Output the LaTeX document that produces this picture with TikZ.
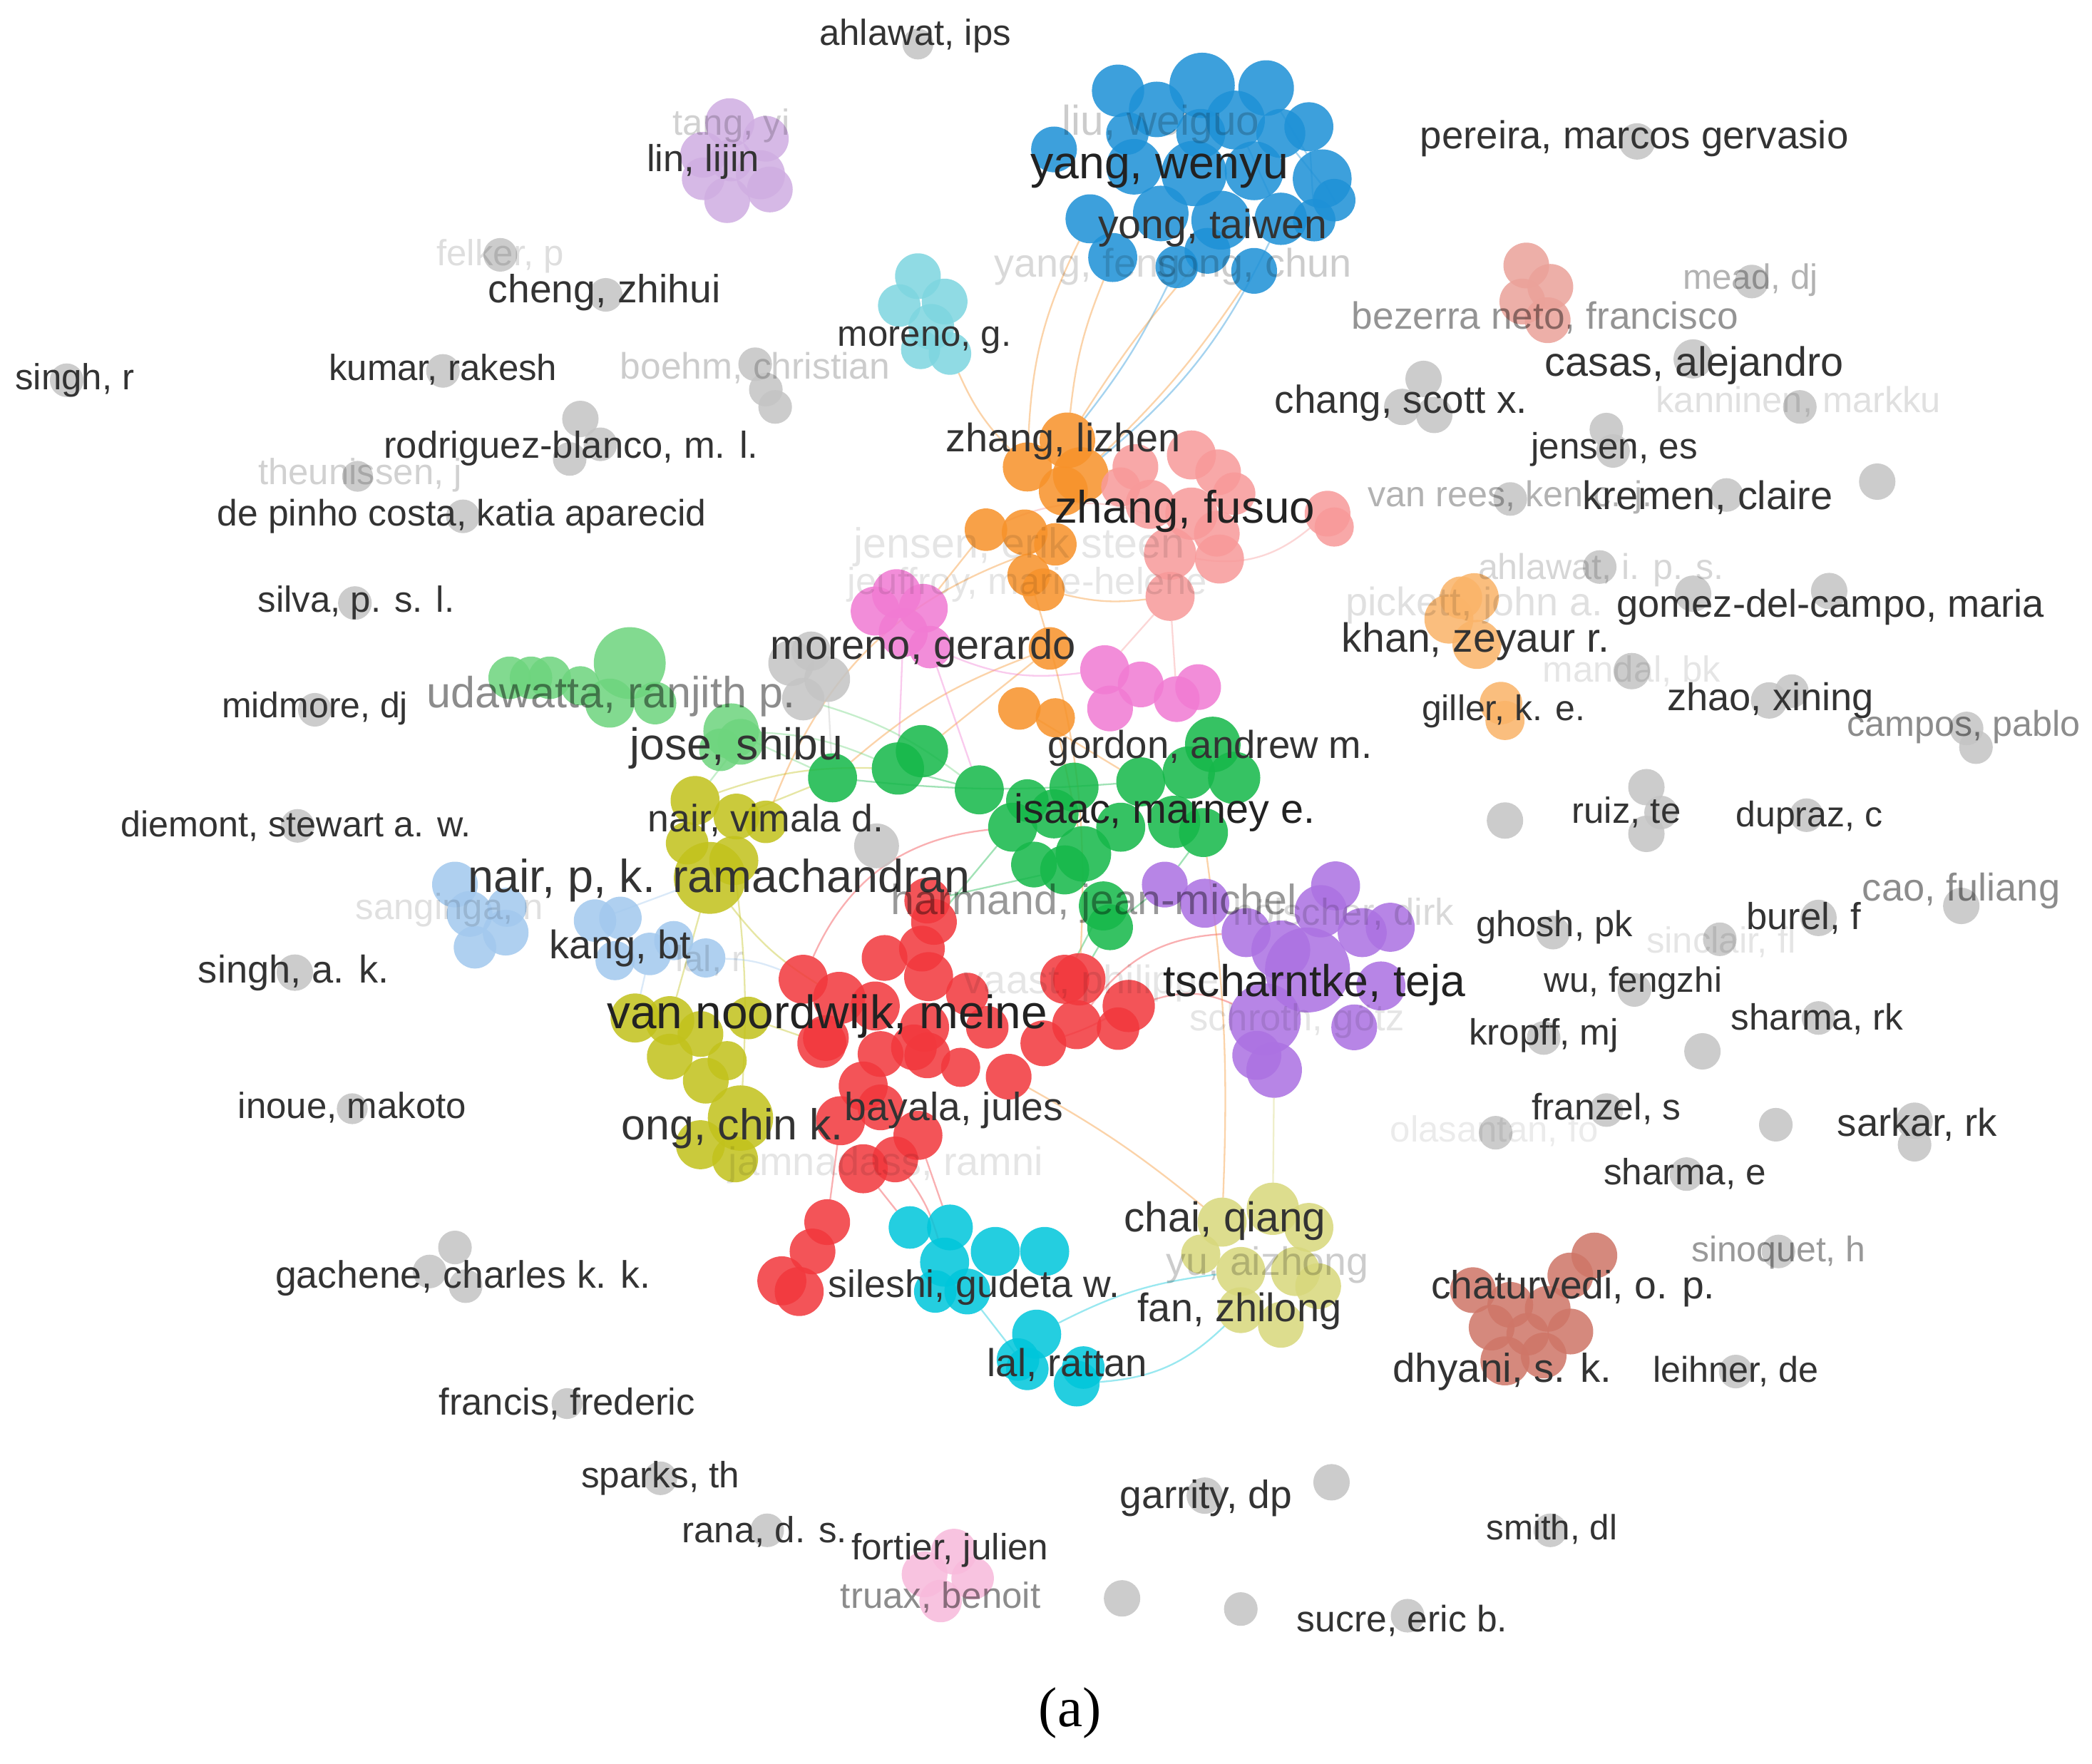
\documentclass[tikz,border=0pt]{standalone}
\usepackage{fontspec}
\setmainfont{Liberation Sans}
\newfontfamily\capfont{Liberation Serif}
\usetikzlibrary{backgrounds}
\definecolor{labc}{HTML}{333333}
\definecolor{labd}{HTML}{222222}
\definecolor{cBlue}{HTML}{1E91D7}
\definecolor{cCyanL}{HTML}{7ED6E0}
\definecolor{cOrange}{HTML}{F7922A}
\definecolor{cSalmon}{HTML}{F89A9A}
\definecolor{cMagenta}{HTML}{F17BD3}
\definecolor{cGreenL}{HTML}{6ED57E}
\definecolor{cGreen}{HTML}{16B84A}
\definecolor{cOlive}{HTML}{C2C21C}
\definecolor{cBlueL}{HTML}{A3C9EE}
\definecolor{cRed}{HTML}{F2383D}
\definecolor{cPurple}{HTML}{AC72E2}
\definecolor{cCyan}{HTML}{00C6DB}
\definecolor{cKhaki}{HTML}{D8D87C}
\definecolor{cBrown}{HTML}{CF7668}
\definecolor{cLav}{HTML}{D0AEE2}
\definecolor{cPeach}{HTML}{FAB469}
\definecolor{cSalmB}{HTML}{EBA29A}
\definecolor{cPinkL}{HTML}{F8BADC}
\definecolor{cGray}{HTML}{C4C4C4}
\begin{document}
\begin{tikzpicture}[x=0.02cm,y=-0.02cm,
  bub/.style={circle,inner sep=0pt,outer sep=0pt,draw=none,fill=#1,fill opacity=0.86},
  sz/.style={minimum size=#1*0.245mm},
  gsz/.style={minimum size=#1*0.21mm},
  lk/.style={draw=#1,draw opacity=0.4,line width=0.7pt},
  lab/.style={inner sep=0pt,text=labc},
  fnt/.style={inner sep=0pt,text=black,text opacity=#1},
  fs/.style={font=\fontsize{#1}{#1}\selectfont}]
\useasboundingbox (0,0) rectangle (1568,1322);

% ---------- clusters ----------
\foreach \i/\x/\y/\dm in {1/838/68/32,2/901/64/40,3/949/66/34,4/981/95/30,5/790/112/28,6/867/82/34,7/926/90/36,8/991/134/36,9/817/164/30,10/834/193/30,11/882/200/26,12/940/203/28,13/960/164/32,14/850/125/34,15/895/130/40,16/940/128/36,17/870/160/34,18/915/165/36,19/985/165/26,20/900/100/30,21/960/100/30,22/845/100/26,23/905/188/28,24/1000/150/26}
  \node[bub=cBlue,sz=\dm] (b\i) at (\x,\y) {};
\foreach \i/\x/\y/\dm in {1/688/207/28,2/708/226/28,3/674/229/26,4/698/245/28,5/712/265/26,6/690/262/24}
  \node[bub=cCyanL,sz=\dm] (cl\i) at (\x,\y) {};
\foreach \i/\x/\y/\dm in {1/800/330/34,2/770/350/30,3/810/356/34,4/739/397/26,5/768/399/28,6/791/408/26,7/771/431/26,8/782/442/26,9/787/486/26,10/764/531/26,11/791/538/24,12/797/368/30}
  \node[bub=cOrange,sz=\dm] (o\i) at (\x,\y) {};
\foreach \i/\x/\y/\dm in {1/851/350/28,2/893/341/30,3/913/354/28,4/925/370/26,5/862/378/30,6/893/385/32,7/912/400/28,8/877/415/32,9/914/419/30,10/877/447/30,11/995/385/28,12/840/365/24,13/1000/395/24}
  \node[bub=cSalmon,sz=\dm] (s\i) at (\x,\y) {};
\foreach \i/\x/\y/\dm in {1/656/458/30,2/672/445/30,3/692/456/30,4/677/474/30,5/697/485/26}
  \node[bub=cMagenta,sz=\dm] (m\i) at (\x,\y) {};
\foreach \i/\x/\y/\dm in {1/828/502/30,2/832/531/28,3/855/513/28,4/882/524/28,5/898/515/28}
  \node[bub=cMagenta,sz=\dm] (p\i) at (\x,\y) {};
\foreach \i/\x/\y/\dm in {1/593/497/28,2/620/509/28,3/602/524/26,4/608/488/24}
  \node[bub=cGray,sz=\dm] (gu\i) at (\x,\y) {};
\foreach \i/\x/\y/\dm in {1/382/508/26,2/398/508/26,3/412/508/26,4/435/514/24,5/472/497/44,6/457/527/30,7/491/527/26,8/548/548/34,9/555/556/28,10/540/562/26}
  \node[bub=cGreenL,sz=\dm] (lg\i) at (\x,\y) {};
\foreach \i/\x/\y/\dm in {1/624/583/30,2/673/576/32,3/691/563/32,4/734/592/30,5/759/620/30,6/775/648/28,7/805/590/30,8/812/640/34,9/798/652/30,10/827/679/30,11/832/695/28,12/855/586/30,13/891/579/32,14/909/558/34,15/925/583/32,16/880/616/32,17/902/624/30,18/790/610/30,19/840/620/30,20/770/600/26}
  \node[bub=cGreen,sz=\dm] (g\i) at (\x,\y) {};
\foreach \i/\x/\y/\dm in {1/521/600/30,2/552/612/28,3/574/616/26,4/515/632/26,5/532/658/44,6/550/645/30,7/476/763/30,8/502/765/30,9/525/775/28,10/561/763/26,11/502/792/28,12/529/810/28,13/555/838/40,14/525/858/30,15/551/869/28,16/545/795/24}
  \node[bub=cOlive,sz=\dm] (ol\i) at (\x,\y) {};
\foreach \i/\x/\y/\dm in {1/341/663/28,2/352/685/28,3/379/699/28,4/356/710/26,5/380/680/24,6/446/690/26,7/465/688/26,8/487/715/26,9/529/718/24,10/461/720/24,11/505/705/24}
  \node[bub=cBlueL,sz=\dm] (lb\i) at (\x,\y) {};
\foreach \i/\x/\y/\dm in {1/602/734/30,2/629/748/32,3/616/782/30,4/656/754/30,5/663/718/28,6/691/711/28,7/695/675/28,8/700/691/28,9/696/732/30,10/693/770/30,11/695/791/28,12/782/782/28,13/756/807/28,14/798/734/30,15/807/768/30,16/809/734/32,17/846/754/32,18/838/771/26,19/647/814/30,20/619/778/28,21/685/785/28,22/688/851/30,23/647/876/30,24/671/869/28,25/620/916/28,26/609/938/28,27/586/960/30,28/599/968/30,29/630/840/30,30/660/830/28,31/720/800/24,32/740/770/26,33/725/745/26,34/660/790/28}
  \node[bub=cRed,sz=\dm] (r\i) at (\x,\y) {};
\foreach \i/\x/\y/\dm in {1/873/663/28,2/903/677/30,3/934/699/30,4/1001/664/30,5/990/683/32,6/1021/699/30,7/1042/695/30,8/980/727/52,9/1035/739/30,10/948/764/44,11/1015/770/28,12/942/791/30,13/955/802/34,14/960/712/36}
  \node[bub=cPurple,sz=\dm] (pu\i) at (\x,\y) {};
\foreach \i/\x/\y/\dm in {1/682/920/26,2/712/920/28,3/708/946/30,4/746/938/30,5/783/938/30,6/725/968/28,7/701/968/26,8/777/1000/30,9/770/1026/26,10/807/1037/28,11/763/1019/26,12/812/1025/26}
  \node[bub=cCyan,sz=\dm] (cy\i) at (\x,\y) {};
\foreach \i/\x/\y/\dm in {1/916/916/30,2/954/906/32,3/981/920/30,4/930/953/30,5/971/953/30,6/988/964/28,7/930/982/28,8/960/993/28,9/900/940/24}
  \node[bub=cKhaki,sz=\dm] (kh\i) at (\x,\y) {};
\foreach \i/\x/\y/\dm in {1/1195/941/28,2/1177/956/28,3/1104/967/28,4/1132/978/28,5/1160/981/28,6/1118/995/28,7/1177/998/28,8/1128/1020/30,9/1157/1016/28,10/1145/1000/26}
  \node[bub=cBrown,sz=\dm] (br\i) at (\x,\y) {};
\foreach \i/\x/\y/\dm in {1/547/92/30,2/574/104/28,3/527/116/28,4/570/131/30,5/527/134/26,6/545/150/28,7/577/142/28,8/548/120/26}
  \node[bub=cLav,sz=\dm] (lv\i) at (\x,\y) {};
\foreach \i/\x/\y/\dm in {1/1105/448/30,2/1086/464/30,3/1107/483/30,4/1125/527/26,5/1128/540/24,6/1095/448/26}
  \node[bub=cPeach,sz=\dm] (pk\i) at (\x,\y) {};
\foreach \i/\x/\y/\dm in {1/1144/199/28,2/1162/215/28,3/1141/226/28,4/1160/240/28}
  \node[bub=cSalmB,sz=\dm] (sb\i) at (\x,\y) {};
\foreach \i/\x/\y/\dm in {1/715/1163/28,2/693/1180/28,3/729/1183/26,4/705/1200/26}
  \node[bub=cPinkL,sz=\dm] (pf\i) at (\x,\y) {};
% ---------- grey items ----------
\foreach \nm/\x/\y/\dm in {Ahl/688/33/22,Fel/375/191/24,Che/454/221/24,SinR/50/285/24,Kum/332/278/24,BoA/566/273/24,BoB/574/292/24,BoC/581/305/24,RoA/435/314/26,RoB/450/333/24,RoC/427/344/24,The/268/357/22,DeP/347/387/24,Sil/266/452/24,Mid/236/532/24,Die/223/619/24,SinAK/221/729/26,Ino/264/831/22,GaA/341/935/24,GaB/322/953/24,GaC/349/964/24,Fra/425/1052/22,Spa/495/1108/24,Ran/575/1147/24,BotA/841/1198/26,BotB/930/1206/24,BotC/998/1111/26,Gar/903/1121/26,Suc/1055/1211/24,Smi/1162/1147/24,Lei/1301/1028/24,Sino/1333/938/24,ShE/1264/880/24,Frz/1204/832/24,Ola/1121/849/24,Hoo/1331/843/24,SarA/1435/840/26,SarB/1435/858/24,Kro/1157/778/24,Mbu/1276/788/26,ShR/1363/763/24,Wu/1225/742/24,Gho/1164/699/24,Sinc/1289/704/24,Bur/1363/688/26,Cao/1470/679/26,Dup/1354/611/24,RuA/1234/590/26,RuB/1245/609/24,RuC/1234/625/26,Lone/1128/615/26,CamA/1474/546/24,CamB/1481/560/24,ZhA/1326/525/26,ZhB/1343/518/24,Man/1223/503/26,AhlB/1199/425/24,GoA/1269/445/26,GoB/1371/443/26,VR/1132/374/24,Kre/1294/371/24,LoneB/1407/361/26,JeA/1204/322/24,JeB/1209/338/24,Kan/1349/305/24,ChA/1067/284/26,ChB/1051/305/26,ChC/1075/311/26,Cas/1269/269/28,Mea/1313/211/24,Per/1227/106/26,Nv/657/634/32}
  \node[bub=cGray,gsz=\dm] (g\nm) at (\x,\y) {};

% ---------- links ----------
\begin{scope}[on background layer]
\fill[white] (0,0) rectangle (1568,1322);
\draw[lk=cBlue] (b3) -- (b8); \draw[lk=cBlue] (b4) -- (b19); \draw[lk=cBlue] (b21) -- (b24);
\draw[lk=cBlue] (b7) -- (b13); \draw[lk=cBlue] (b8) -- (b24);
\draw[lk=cOrange] (o1) to[bend left=8] (b10);
\draw[lk=cBlue] (o1) to[bend right=6] (b11);
\draw[lk=cOrange] (o3) to[bend right=6] (b12);
\draw[lk=cOrange] (o2) to[bend left=12] (b9);
\draw[lk=cBlue] (o3) to[bend right=12] (b13);
\draw[lk=cOrange] (o1) to[bend left=4] (b23);
\draw[lk=cOrange] (o2) to[bend left=10] (cl5);
\draw[lk=cOrange] (o3) -- (s1);
\draw[lk=cOrange] (o8) to[bend right=10] (s10);
\draw[lk=cSalmon] (s10) -- (p4);
\draw[lk=cSalmon] (s10) -- (p1);
\draw[lk=cSalmon] (s8) to[bend right=25] (s11);
\draw[lk=cSalmon] (o4) to[bend left=30] (s9);
\draw[lk=cOrange] (o4) -- (m3);
\draw[lk=cOrange] (o9) -- (g3);
\draw[lk=cOrange] (o10) -- (g12);
\draw[lk=cOrange] (o11) -- (g8);
\draw[lk=cOrange] (o9) to[bend right=10] (g1);
\draw[lk=cMagenta] (m4) -- (g2);
\draw[lk=cMagenta] (m5) to[bend right=15] (p1);
\draw[lk=cMagenta] (m5) -- (g4);
\draw[lk=cGray] (gu2) -- (g1);
\draw[lk=cGreenL] (lg8) -- (g1);
\draw[lk=cGreenL] (lg8) to[bend left=10] (g2);
\draw[lk=cGreenL] (lg9) -- (ol1);
\draw[lk=cGreenL] (gu3) to[bend left=10] (g4);
\draw[lk=cOlive] (ol2) -- (g1);
\draw[lk=cOlive] (ol1) to[bend left=10] (g2);
\draw[lk=cOlive] (ol5) to[bend right=10] (r2);
\draw[lk=cOlive] (ol10) -- (r3);
\draw[lk=cOlive] (ol5) -- (ol8);
\draw[lk=cOlive] (ol6) to[bend left=5] (ol13);
\draw[lk=cBlueL] (lb9) to[bend left=10] (r1);
\draw[lk=cBlueL] (lb6) -- (ol5);
\draw[lk=cBlueL] (lb8) -- (ol7);
\draw[lk=cGreen] (g9) -- (r7);
\draw[lk=cGreen] (g5) -- (r8);
\draw[lk=cGreen] (g10) -- (r14);
\draw[lk=cGreen] (g11) -- (r16);
\draw[lk=cGreen] (g1) to[bend right=5] (g12);
\draw[lk=cGreen] (g2) -- (g4);
\draw[lk=cGreen] (g11) -- (pu1);
\draw[lk=cGreen] (g17) -- (pu1);
\draw[lk=cRed] (r1) to[bend left=30] (g5);
\draw[lk=cRed] (r17) to[bend left=20] (pu10);
\draw[lk=cRed] (r15) to[bend left=25] (pu3);
\draw[lk=cRed] (r23) -- (cy1);
\draw[lk=cRed] (r24) to[bend left=10] (cy3);
\draw[lk=cRed] (r22) -- (cy2);
\draw[lk=cRed] (r25) -- (r29);
\draw[lk=cRed] (r12) to[bend right=5] (r17);
\draw[lk=cOrange] (r13) to[bend left=5] (kh1);
\draw[lk=cOrange] (g17) to[bend left=5] (kh1);
\draw[lk=cOrange] (o6) to[bend right=25] (ol3);
\draw[lk=cOrange] (o7) to[bend left=10] (r16);
\draw[lk=cKhaki] (pu13) -- (kh2);
\draw[lk=cCyan] (cy10) to[bend right=20] (kh7);
\draw[lk=cCyan] (cy8) to[bend left=10] (kh4);
\draw[lk=cCyan] (cy6) -- (cy9);
\end{scope}

% ---------- labels ----------
\node[lab,fs=15.5] (Lahl) at (686,27) {ahlawat, ips};
\node[fnt=0.18,fs=15.5] (Ltan) at (548,94) {tang, yi};
\node[lab,fs=16] (Llin) at (527,121) {lin, lijin};
\node[fnt=0.13,fs=15.5] (Lfel) at (375,192) {felker, p};
\node[lab,fs=16.8] (Lche) at (453,219) {cheng, zhihui};
\node[lab,fs=15.5] (LsinR) at (56,285) {singh, r};
\node[lab,fs=15.5] (Lkum) at (332,277) {kumar, rakesh};
\node[fnt=0.2,fs=15.7] (Lboe) at (566,276) {boehm, christian};
\node[lab,fs=16] (Lrod) at (428,336) {rodriguez-blanco, m. l.};
\node[fnt=0.18,fs=15.5] (Lthe) at (270,356) {theunissen, j};
\node[lab,fs=15.7] (Ldep) at (346,387) {de pinho costa, katia aparecid};
\node[lab,fs=15.5] (Lsil) at (267,452) {silva, p. s. l.};
\node[lab,fs=15.2] (Lmid) at (236,531) {midmore, dj};
\node[fnt=0.45,fs=18.6] (Ludw) at (458,522) {udawatta, ranjith p.};
\node[lab,fs=19] (Ljos) at (552,561) {jose, shibu};
\node[lab,fs=15.3] (Ldie) at (222,619) {diemont, stewart a. w.};
\node[lab,fs=16.3] (Lnvd) at (574,615) {nair, vimala d.};
\node[lab,fs=19.7] (Lnpk) at (539,660) {nair, p, k. ramachandran};
\node[fnt=0.12,fs=15.5] (Lsan) at (337,682) {sanginga, n};
\node[lab,fs=17] (Lkan) at (465,711) {kang, bt};
\node[fnt=0.12,fs=15.5] (Llar) at (532,720) {lal, r};
\node[lab,fs=16.5] (LsinAK) at (220,729) {singh, a. k.};
\node[lab,fs=15.5] (Lino) at (264,830) {inoue, makoto};
\node[lab,fs=16.3] (Lgac) at (347,958) {gachene, charles k. k.};
\node[lab,fs=16] (Lfra) at (425,1052) {francis, frederic};
\node[lab,fs=15.6] (Lspa) at (495,1108) {sparks, th};
\node[lab,fs=15.5] (Lran) at (573,1148) {rana, d. s.};
\node[lab,fs=15.6] (Lfor) at (712,1162) {fortier, julien};
\node[fnt=0.45,fs=15.5] (Ltru) at (705,1197) {truax, benoit};
\node[lab,fs=16.8] (Lgar) at (904,1123) {garrity, dp};
\node[lab,fs=15.7] (Lsuc) at (1051,1215) {sucre, eric b.};
\node[lab,fs=15] (Lsmi) at (1163,1146) {smith, dl};
\node[lab,fs=15.3] (Llei) at (1301,1028) {leihner, de};
\node[lab,fs=17.2] (Ldhy) at (1126,1028) {dhyani, s. k.};
\node[lab,fs=16.8] (Lcha) at (1179,966) {chaturvedi, o. p.};
\node[fnt=0.4,fs=15.2] (Lsino) at (1333,939) {sinoquet, h};
\node[lab,fs=15.6] (LshE) at (1263,880) {sharma, e};
\node[fnt=0.08,fs=15.5] (Lola) at (1120,848) {olasantan, fo};
\node[lab,fs=15.7] (Lfrz) at (1204,831) {franzel, s};
\node[lab,fs=16.6] (Lsar) at (1437,843) {sarkar, rk};
\node[lab,fs=15.6] (Lkro) at (1157,776) {kropff, mj};
\node[lab,fs=15.6] (LshR) at (1362,764) {sharma, rk};
\node[lab,fs=15] (Lwu) at (1224,737) {wu, fengzhi};
\node[lab,fs=15.4] (Lgho) at (1165,695) {ghosh, pk};
\node[fnt=0.1,fs=15.5] (Lsinc) at (1290,706) {sinclair, fl};
\node[lab,fs=16] (Lbur) at (1352,688) {burel, f};
\node[fnt=0.45,fs=16.5] (Lcao) at (1470,668) {cao, fuliang};
\node[lab,fs=15.2] (Ldup) at (1356,613) {dupraz, c};
\node[lab,fs=15.5] (Lrui) at (1219,609) {ruiz, te};
\node[fnt=0.45,fs=15.3] (Lcam) at (1472,545) {campos, pablo};
\node[lab,fs=16.5] (Lzha) at (1327,525) {zhao, xining};
\node[lab,fs=15.2] (Lgil) at (1127,533) {giller, k. e.};
\node[fnt=0.1,fs=15.5] (Lman) at (1223,503) {mandal, bk};
\node[fnt=0.12,fs=17] (Lpic) at (1105,454) {pickett, john a.};
\node[lab,fs=17.4] (Lkha) at (1106,481) {khan, zeyaur r.};
\node[lab,fs=16.5] (Lgom) at (1372,455) {gomez-del-campo, maria};
\node[fnt=0.16,fs=15.3] (LahlB) at (1200,427) {ahlawat, i. p. s.};
\node[fnt=0.3,fs=15.3] (Lvr) at (1132,373) {van rees, ken c. j.};
\node[lab,fs=17] (Lkre) at (1280,373) {kremen, claire};
\node[lab,fs=15.6] (Ljen) at (1210,337) {jensen, es};
\node[fnt=0.12,fs=15.4] (Lkann) at (1348,301) {kanninen, markku};
\node[lab,fs=16.7] (Lchs) at (1050,302) {chang, scott x.};
\node[lab,fs=17.5] (Lcas) at (1270,274) {casas, alejandro};
\node[fnt=0.42,fs=16.2] (Lbez) at (1158,238) {bezerra neto, francisco};
\node[fnt=0.3,fs=15] (Lmea) at (1312,210) {mead, dj};
\node[lab,fs=16.6] (Lper) at (1225,104) {pereira, marcos gervasio};
\node[fnt=0.2,fs=17.8] (Lliu) at (870,93) {liu, weiguo};
\node[inner sep=0pt,text=labd,fs=19.6] (Lyan) at (869,128) {yang, wenyu};
\node[lab,fs=17.4] (Lyon) at (909,171) {yong, taiwen};
\node[fnt=0.15,fs=17] (Lyaf) at (815,200) {yang, feng};
\node[fnt=0.2,fs=17] (Lsoc) at (940,200) {song, chun};
\node[lab,fs=15.5] (Lmog) at (693,255) {moreno, g.};
\node[lab,fs=17] (Lzli) at (797,331) {zhang, lizhen};
\node[inner sep=0pt,text=labd,fs=19.4] (Lzfu) at (888,383) {zhang, fusuo};
\node[fnt=0.1,fs=18] (Ljes) at (764,410) {jensen, erik steen};
\node[fnt=0.1,fs=16] (Ljeu) at (770,438) {jeuffroy, marie-helene};
\node[lab,fs=17.6] (Lmge) at (692,486) {moreno, gerardo};
\node[lab,fs=16.6] (Lgor) at (907,561) {gordon, andrew m.};
\node[inner sep=0pt,text=labd,fs=17.5] (Lisa) at (873,609) {isaac, marney e.};
\node[fnt=0.4,fs=18] (Lhar) at (820,677) {harmand, jean-michel};
\node[fnt=0.15,fs=16] (Lhol) at (1007,685) {hölscher, dirk};
\node[fnt=0.1,fs=17] (Lvaa) at (818,737) {vaast, philippe};
\node[inner sep=0pt,text=labd,fs=19] (Ltsc) at (985,738) {tscharntke, teja};
\node[fnt=0.1,fs=16] (Lsch) at (972,765) {schroth, götz};
\node[inner sep=0pt,text=labd,fs=20] (Lvan) at (620,762) {van noordwijk, meine};
\node[lab,fs=18.5] (Long) at (549,846) {ong, chin k.};
\node[lab,fs=16.8] (Lbay) at (715,832) {bayala, jules};
\node[fnt=0.1,fs=17] (Ljam) at (664,873) {jamnadass, ramni};
\node[lab,fs=17.8] (Lchq) at (918,915) {chai, qiang};
\node[fnt=0.2,fs=16.9] (Lyua) at (950,948) {yu, aizhong};
\node[lab,fs=17] (Lfan) at (929,983) {fan, zhilong};
\node[lab,fs=16.3] (Lsile) at (730,965) {sileshi, gudeta w.};
\node[lab,fs=16.6] (Llal) at (800,1023) {lal, rattan};

\node[inner sep=0pt,font=\capfont\fontsize{24}{24}\selectfont] (cap) at (802,1284) {(a)};
\end{tikzpicture}
\end{document}
